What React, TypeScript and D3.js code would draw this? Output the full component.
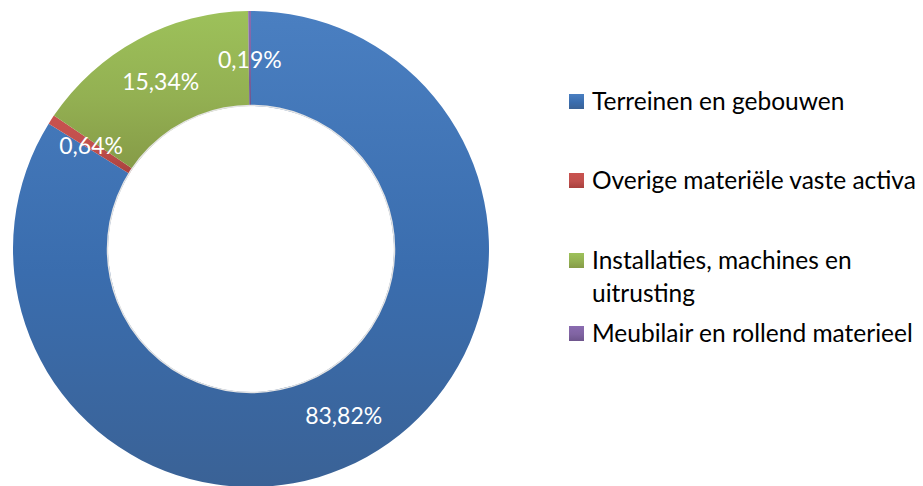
import React, { useEffect, useRef } from "react";
import * as d3 from "d3";

// Chart data
const categories = [
  "Terreinen en gebouwen",
  "Overige materiële vaste activa",
  "Installaties, machines en\nuitrusting",
  "Meubilair en rollend materieel",
];
const shares = [83.82, 0.64, 15.34, 0.19];
const labels = ["83,82%", "0,64%", "15,34%", "0,19%"];

// light / base / dark tones per slice (vertical gradient like the original)
const tones = [
  ["#4a7fc1", "#3a6dae", "#3a6296"],
  ["#c9524f", "#c0504d", "#a8403d"],
  ["#9dc15a", "#93b052", "#869b47"],
  ["#8a6bb0", "#8064a2", "#6e558c"],
];

export default function App() {
  const ref = useRef<SVGSVGElement>(null);

  useEffect(() => {
    const svg = d3.select(ref.current);
    svg.selectAll("*").remove();

    const cx = 251;
    const cy = 249;
    const outer = 238;
    const inner = 143;

    const defs = svg.append("defs");
    tones.forEach((t, i) => {
      const g = defs
        .append("linearGradient")
        .attr("id", "grad" + i)
        .attr("x1", 0)
        .attr("y1", 0)
        .attr("x2", 0)
        .attr("y2", 1);
      g.append("stop").attr("offset", "0%").attr("stop-color", t[0]);
      g.append("stop").attr("offset", "55%").attr("stop-color", t[1]);
      g.append("stop").attr("offset", "100%").attr("stop-color", t[2]);
    });

    const pie = d3
      .pie<number>()
      .value((d) => d)
      .sort(null);
    const arcs = pie(shares);

    const arc = d3
      .arc<d3.PieArcDatum<number>>()
      .innerRadius(inner)
      .outerRadius(outer);

    const chart = svg.append("g").attr("transform", `translate(${cx},${cy})`);

    chart
      .selectAll("path.slice")
      .data(arcs)
      .join("path")
      .attr("class", "slice")
      .attr("d", arc)
      .attr("fill", (_, i) => `url(#grad${i})`);

    // faint shade round the hole
    chart
      .append("circle")
      .attr("r", inner + 0.5)
      .attr("fill", "none")
      .attr("stroke", "#e4e4e4")
      .attr("stroke-width", 1.5);

    chart
      .selectAll("text.lbl")
      .data(arcs)
      .join("text")
      .attr("class", "lbl")
      .attr("x", (d) => arc.centroid(d)[0])
      .attr("y", (d) => arc.centroid(d)[1])
      .attr("text-anchor", "middle")
      .attr("dominant-baseline", "central")
      .attr("fill", "#ffffff")
      .style("font-family", "Lato, 'Open Sans', sans-serif")
      .style("font-size", "23px")
      .text((_, i) => labels[i]);

    // Legend
    const rowY = [101, 180, 260, 333];

    const legend = svg
      .selectAll("g.legend-item")
      .data(categories)
      .join("g")
      .attr("class", "legend-item")
      .attr("transform", (_, i) => `translate(569, ${rowY[i]})`);

    legend
      .append("rect")
      .attr("x", 0)
      .attr("y", -7)
      .attr("width", 15)
      .attr("height", 15)
      .attr("fill", (_, i) => `url(#grad${i})`);

    legend.each(function (d) {
      const lines = d.split("\n");
      const t = d3
        .select(this)
        .append("text")
        .attr("x", 23)
        .attr("y", 0)
        .attr("fill", "#000")
        .style("font-family", "Lato, 'Open Sans', sans-serif")
        .style("font-size", "24.5px");
      lines.forEach((line, j) => {
        t.append("tspan")
          .attr("x", 23)
          .attr("dy", j === 0 ? "0.35em" : "33px")
          .text(line);
      });
    });
  }, []);

  return (
    <svg
      ref={ref}
      width={923}
      height={486}
      style={{ position: "absolute", left: 0, top: 0, background: "#fff" }}
    />
  );
}
